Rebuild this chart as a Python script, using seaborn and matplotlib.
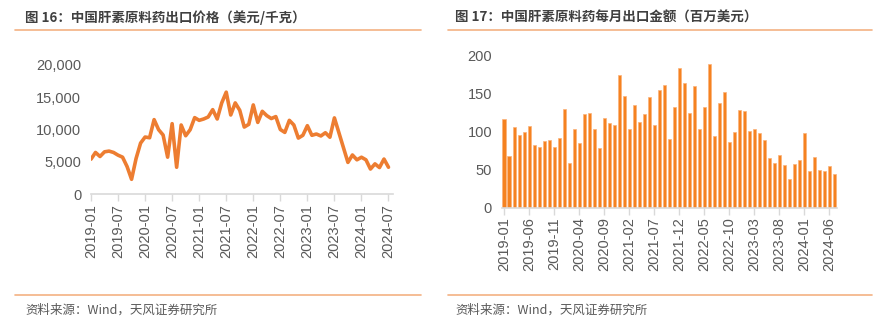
import numpy as np
import pandas as pd
import matplotlib
matplotlib.use("Agg")
import matplotlib.pyplot as plt
import seaborn as sns
from matplotlib.lines import Line2D

sns.set_theme(style="white")
plt.rcParams['font.family'] = ['Liberation Sans', 'Noto Sans CJK SC', 'DejaVu Sans']

# ---------------- data ----------------
months = pd.date_range("2019-01", "2024-07", freq="MS").strftime("%Y-%m").tolist()

price = [5400, 6440, 5815, 6540, 6650, 6440, 6020, 5710, 4260, 2280,
         5500, 7890, 8830, 8720, 11530, 9970, 9140, 5710, 10900, 4150,
         10700, 9030, 9970, 11840, 11420, 11630, 11940, 13080, 11630, 14120,
         15790, 12250, 14120, 12980, 10380, 10800, 13810, 11100, 12820, 12150,
         11700, 12000, 10000, 9550, 11420, 10700, 8670, 9100, 10590, 9100,
         9300, 9000, 9500, 8800, 11800, 9500, 7200, 4900, 6050, 5300,
         5700, 5300, 3870, 4670, 4100, 5420, 4150]

export_value = [117, 68, 106, 95, 99, 107, 83, 80, 87, 89,
                80, 92, 130, 59, 104, 85, 123, 125, 104, 78,
                118, 111, 109, 175, 147, 103, 135, 113, 123, 146,
                109, 155, 162, 90, 132, 184, 164, 125, 160, 104,
                132, 189, 94, 138, 152, 86, 100, 128, 127, 101,
                104, 98, 89, 65, 59, 69, 56, 37, 57, 62,
                98, 48, 66, 50, 48, 55, 44]

title_left = "图 16：中国肝素原料药出口价格（美元/千克）"
title_right = "图 17：中国肝素原料药每月出口金额（百万美元）"
source_text = "资料来源：Wind，天风证券研究所"

# ---------------- styling ----------------
W, H = 886, 327
fig = plt.figure(figsize=(W / 100, H / 100), dpi=100)

line_color = "#ED7D31"
bar_color = "#F58220"
sep_color = "#F4B183"
tick_color = "#595959"
axis_color = "#D9D9D9"
cjk = ['Noto Sans CJK SC', 'DejaVu Sans']

def fx(px):
    return px / W

def fy(py):
    return 1 - py / H

# separators & titles
for x0, x1, tx, title in [(15, 421, 25, title_left), (448, 872, 455, title_right)]:
    fig.add_artist(Line2D([fx(x0), fx(x1)], [fy(30), fy(30)], color=sep_color, lw=1.2))
    fig.add_artist(Line2D([fx(x0), fx(x1)], [fy(295), fy(295)], color=sep_color, lw=1.2))
    fig.text(fx(tx), fy(18), title, family=cjk, fontsize=9.7, fontweight='bold',
             color="#404040", va='center', ha='left')
    fig.text(fx(tx), fy(310), source_text, family=cjk, fontsize=9,
             color=tick_color, va='center', ha='left')

# ---------------- left: line chart ----------------
axL = fig.add_axes([fx(91), fy(194), fx(393) - fx(91), fy(65) - fy(194)])
dfL = pd.DataFrame({"idx": np.arange(len(months)), "price": price})
sns.lineplot(data=dfL, x="idx", y="price", ax=axL, color=line_color, lw=2.6)
axL.set_xlim(0, len(months))
axL.set_ylim(0, 20000)
axL.set_yticks([0, 5000, 10000, 15000, 20000])
axL.set_yticklabels([f"{v:,}" for v in [0, 5000, 10000, 15000, 20000]])
xt = list(range(0, len(months), 6))
axL.set_xticks(xt)
axL.set_xticklabels([months[i] for i in xt], rotation=90)

# ---------------- right: bar chart ----------------
axR = fig.add_axes([fx(501.8), fy(207.5), fx(836.8) - fx(501.8), fy(55.7) - fy(207.5)])
dfR = pd.DataFrame({"month": months, "value": export_value})
sns.barplot(data=dfR, x="month", y="value", ax=axR, color=bar_color, width=0.72,
            saturation=1, edgecolor="#FBB27A", linewidth=0.5)
axR.set_xlim(-0.5, len(months) - 0.5)
axR.set_ylim(0, 200)
axR.set_yticks([0, 50, 100, 150, 200])
xtR = list(range(0, len(months), 5))
axR.set_xticks(xtR)
axR.set_xticklabels([months[i] for i in xtR], rotation=90)

for ax in (axL, axR):
    ax.set_xlabel("")
    ax.set_ylabel("")
    for s in ("top", "right", "left"):
        ax.spines[s].set_visible(False)
    ax.spines["bottom"].set_color(axis_color)
    ax.spines["bottom"].set_linewidth(1.2)
    ax.tick_params(axis='x', which='both', bottom=True, length=5, width=1,
                   color=axis_color, labelcolor=tick_color, labelsize=10.5, pad=2)
    ax.tick_params(axis='y', left=False, labelcolor=tick_color, labelsize=10.5, pad=1)
    ax.grid(False)
    ax.set_facecolor("white")

fig.savefig("out.png", dpi=100, facecolor="white")
